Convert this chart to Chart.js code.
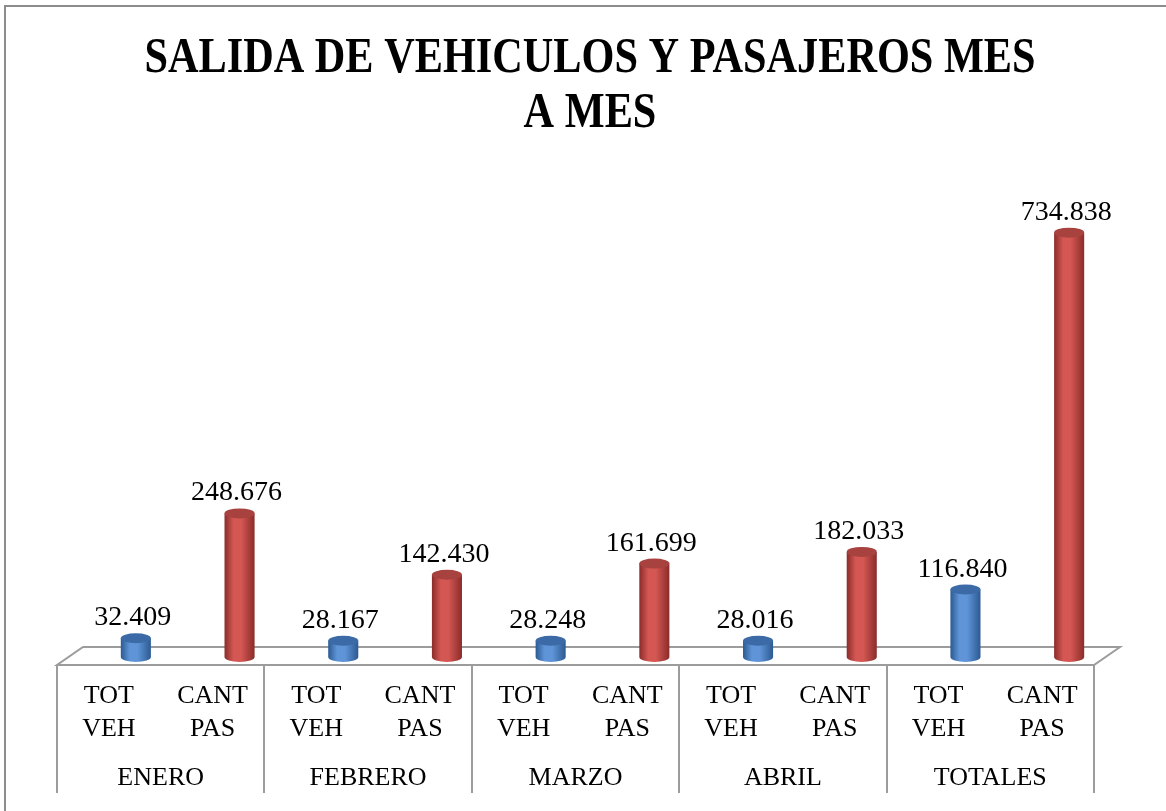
<!DOCTYPE html>
<html>
<head>
<meta charset="utf-8">
<script src="https://cdn.jsdelivr.net/npm/chart.js@4"></script>
<style>
  html, body { margin: 0; padding: 0; background: #fff; }
  #wrap { width: 1166px; height: 811px; }
</style>
</head>
<body>
<div id="wrap"><canvas id="salidasChart"></canvas></div>
<script>
const titleLines = ['SALIDA DE VEHICULOS Y PASAJEROS MES', 'A MES'];
const months = ['ENERO', 'FEBRERO', 'MARZO', 'ABRIL', 'TOTALES'];
const subLabels = [['TOT', 'VEH'], ['CANT', 'PAS']];
const totVeh = [32409, 28167, 28248, 28016, 116840];
const cantPas = [248676, 142430, 161699, 182033, 734838];

// one bar per sub category, alternating veh / pas
const labels = [];
const values = [];
const kinds = [];
months.forEach((m, i) => {
  labels.push(subLabels[0]); values.push(totVeh[i]); kinds.push('veh');
  labels.push(subLabels[1]); values.push(cantPas[i]); kinds.push('pas');
});

const palette = {
  veh: { edge: '#2c5a92', light: '#5f95d8', top: '#3b6aa6' },
  pas: { edge: '#8a2c2a', light: '#d45753', top: '#a8423f' }
};

// 3d depth offsets
const DX = 27, DY = -8;
const BACK_DX = 26, BACK_DY = -18;

const fmt = v => String(v).replace(/\B(?=(\d{3})+(?!\d))/g, '.');

const chromePlugin = {
  id: 'chrome',
  beforeDraw(chart) {
    const { ctx } = chart;
    ctx.save();
    // frame
    ctx.strokeStyle = '#8c8c8c';
    ctx.lineWidth = 2;
    ctx.beginPath();
    ctx.moveTo(5, 820);
    ctx.lineTo(5, 6);
    ctx.lineTo(1180, 6);
    ctx.stroke();
    // title
    ctx.fillStyle = '#000';
    ctx.font = 'bold 50px "Liberation Serif"';
    ctx.textAlign = 'center';
    ctx.textBaseline = 'alphabetic';
    const cx = 590;
    const squeeze = 0.846;
    [72, 127].forEach((y, i) => {
      ctx.save();
      ctx.translate(cx, y);
      ctx.scale(squeeze, 1);
      ctx.fillText(titleLines[i], 0, 0);
      ctx.restore();
    });
    ctx.restore();
  },
  beforeDatasetsDraw(chart) {
    const { ctx, chartArea } = chart;
    const x2 = chart.scales.x2;
    const l = chartArea.left, r = chartArea.right, b = chartArea.bottom;
    ctx.save();
    ctx.strokeStyle = '#9c9c9c';
    ctx.lineWidth = 2;
    // floor
    ctx.beginPath();
    ctx.moveTo(l, b);
    ctx.lineTo(r, b);
    ctx.lineTo(r + BACK_DX, b + BACK_DY);
    ctx.lineTo(l + BACK_DX, b + BACK_DY);
    ctx.closePath();
    ctx.stroke();
    // group dividers
    for (let k = 0; k <= months.length; k++) {
      const x = Math.round(x2.left + k * x2.width / months.length);
      ctx.beginPath();
      ctx.moveTo(x, b);
      ctx.lineTo(x, 793);
      ctx.stroke();
    }
    ctx.restore();
  },
  afterDatasetsDraw(chart) {
    const { ctx } = chart;
    const meta = chart.getDatasetMeta(0);
    ctx.save();
    meta.data.forEach((bar, i) => {
      const p = bar.getProps(['x', 'y', 'base', 'width'], true);
      const c = palette[kinds[i]];
      const cx = p.x + DX;
      const top = p.y + DY;
      const bot = p.base + DY;
      const rx = p.width / 2;
      const ry = 5;
      const g = ctx.createLinearGradient(cx - rx, 0, cx + rx, 0);
      g.addColorStop(0, c.edge);
      g.addColorStop(0.3, c.light);
      g.addColorStop(0.55, c.light);
      g.addColorStop(1, c.edge);
      ctx.fillStyle = g;
      ctx.beginPath();
      ctx.moveTo(cx - rx, top);
      ctx.lineTo(cx - rx, bot);
      ctx.ellipse(cx, bot, rx, ry, 0, Math.PI, 0, true);
      ctx.lineTo(cx + rx, top);
      ctx.closePath();
      ctx.fill();
      ctx.fillStyle = c.top;
      ctx.beginPath();
      ctx.ellipse(cx, top, rx, ry, 0, 0, Math.PI * 2);
      ctx.fill();
      // value label
      ctx.fillStyle = '#000';
      ctx.font = '28px "Liberation Serif"';
      ctx.textAlign = 'center';
      ctx.textBaseline = 'alphabetic';
      ctx.fillText(fmt(values[i]), cx - 3, top - ry - 8);
    });
    ctx.restore();
  }
};

const data = {
  labels,
  datasets: [{
    data: values,
    backgroundColor: 'rgba(0,0,0,0)',
    borderWidth: 0,
    barPercentage: 0.29,
    categoryPercentage: 1
  }]
};

const options = {
  responsive: true,
  maintainAspectRatio: false,
  animation: false,
  layout: { padding: { top: 203, left: 57, right: 72, bottom: 0 } },
  plugins: {
    legend: { display: false },
    tooltip: { enabled: false }
  },
  scales: {
    y: { display: false, min: 0, max: 800000 },
    x: {
      type: 'category',
      offset: true,
      grid: { display: false, drawTicks: false },
      border: { display: false },
      ticks: {
        color: '#000',
        font: { family: 'Liberation Serif', size: 26, lineHeight: 1.27 },
        padding: 15,
        maxRotation: 0,
        autoSkip: false
      },
      afterFit: s => { s.height = 98; }
    },
    x2: {
      type: 'category',
      position: 'bottom',
      labels: months,
      offset: true,
      grid: { display: false, drawTicks: false },
      border: { display: false },
      ticks: {
        color: '#000',
        font: { family: 'Liberation Serif', size: 26 },
        padding: 0,
        maxRotation: 0,
        autoSkip: false
      },
      afterFit: s => { s.height = 48; }
    }
  }
};

new Chart(document.getElementById('salidasChart'), {
  type: 'bar',
  data,
  options,
  plugins: [chromePlugin]
});
</script>
</body>
</html>
